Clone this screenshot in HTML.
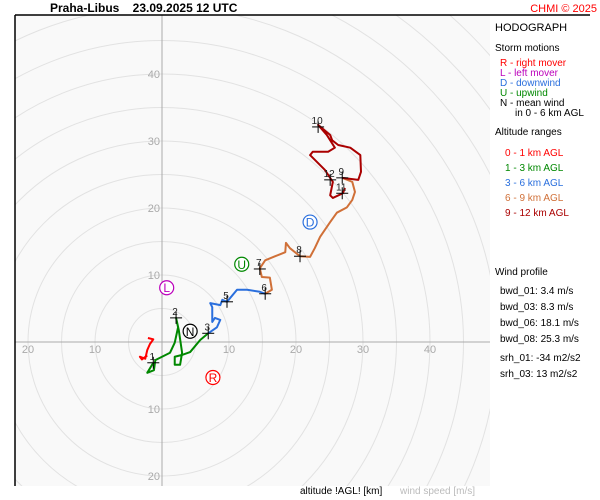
<!DOCTYPE html>
<html><head><meta charset="utf-8"><style>
html,body{margin:0;padding:0;background:#fff;width:600px;height:500px;overflow:hidden;}
svg{display:block;font-family:"Liberation Sans",sans-serif;}
</style></head><body>
<svg id="c" width="600" height="500" viewBox="0 0 600 500">
<defs><clipPath id="pc"><rect x="15" y="15" width="475" height="471"/></clipPath></defs>
<rect x="15" y="15" width="475" height="471" fill="#f9f9f9"/>
<g id="rings" clip-path="url(#pc)"></g>
<g id="axes"></g>
<g id="series" clip-path="url(#pc)"></g>
<line x1="15" y1="15" x2="15" y2="486" stroke="#000" stroke-width="1.5"/>
<line x1="15" y1="15" x2="590" y2="15" stroke="#000" stroke-width="1.5"/>
<text x="50" y="12" font-size="12" font-weight="bold">Praha-Libus&#160;&#160;&#160;&#160;23.09.2025 12 UTC</text>
<text x="597" y="12" font-size="11" fill="#f00" text-anchor="end">CHMI © 2025</text>
<g font-size="10">
<text x="495" y="31" font-size="11">HODOGRAPH</text>
<text x="495" y="51">Storm motions</text>
<text x="500" y="66" fill="#f00">R - right mover</text>
<text x="500" y="76" fill="#b0b">L - left mover</text>
<text x="500" y="86" fill="#2a6fdd">D - downwind</text>
<text x="500" y="96" fill="#080">U - upwind</text>
<text x="500" y="106">N - mean wind</text>
<text x="515" y="116">in 0 - 6 km AGL</text>
<text x="495" y="135">Altitude ranges</text>
<text x="505" y="156" fill="#f00">0 - 1 km AGL</text>
<text x="505" y="171" fill="#080">1 - 3 km AGL</text>
<text x="505" y="186" fill="#2a6fdd">3 - 6 km AGL</text>
<text x="505" y="201" fill="#d07038">6 - 9 km AGL</text>
<text x="505" y="216" fill="#a00">9 - 12 km AGL</text>
<text x="495" y="275">Wind profile</text>
<text x="500" y="294">bwd_01: 3.4 m/s</text>
<text x="500" y="310">bwd_03: 8.3 m/s</text>
<text x="500" y="326">bwd_06: 18.1 m/s</text>
<text x="500" y="342">bwd_08: 25.3 m/s</text>
<text x="500" y="361">srh_01: -34 m2/s2</text>
<text x="500" y="377">srh_03: 13 m2/s2</text>
</g>
<text x="300" y="494" font-size="10">altitude !AGL! [km]</text>
<text x="400" y="494" font-size="10" fill="#bbb">wind speed [m/s]</text>
</svg>
<script>
const ringRadii=[5,10,15,20,25,30,35,40,45,50,55,60,65,70];
const xTicks=[-20,-10,10,20,30,40];
const yTicks=[40,30,20,10,-10,-20];
const seg01=[[-2.1,0.6],[-1.3,0.4],[-1.8,-0.3],[-2.2,-1.2],[-2.5,-2.5],[-3.3,-2.2],[-3.0,-2.6],[-2.2,-2.0]];
const seg13=[[-1.3,-3.1],[-2.2,-4.6],[-1.2,-4.2],[-1.0,-2.7],[1.2,-1.6],[1.9,-0.1],[2.4,2.2],[2.1,3.6],[2.5,1.8],[3.0,-1.6],[2.7,-3.4],[1.9,-3.4],[1.9,-2.2],[3.1,-1.9],[4.2,-1.5],[5.7,0.3],[6.9,1.3]];
const seg36=[[6.9,1.3],[8.2,2.2],[8.7,3.3],[7.9,3.6],[7.5,3.0],[7.5,5.2],[7.2,5.8],[8.7,5.5],[9.0,6.3],[9.7,6.0],[11.2,7.8],[12.7,7.8],[14.6,7.5],[15.4,7.2]];
const seg69=[[15.4,7.2],[16.4,7.8],[16.1,9.6],[14.9,9.7],[14.6,11.0],[15.4,12.2],[16.9,12.8],[18.4,13.4],[18.5,14.8],[19.1,14.0],[20.6,12.8],[22.1,12.7],[22.8,14.0],[23.6,15.7],[25.1,17.9],[26.1,19.3],[27.6,20.1],[28.4,21.2],[28.8,22.4],[28.4,23.9],[26.9,24.5]];
const seg912=[[26.9,24.5],[29.3,24.2],[29.7,25.4],[29.6,27.9],[28.1,29.0],[26.3,29.4],[25.4,30.1],[25.1,30.9],[23.3,32.4],[24.6,30.9],[25.8,29.0],[24.8,28.4],[22.5,28.4],[22.1,27.9],[24.3,25.7],[25.5,23.9],[25.1,21.9],[25.5,21.5],[27.0,22.2],[27.3,23.0]];
const markerLabels=["1","2","3","5","6","7","8","9","10","11","12"];
const markerU=[-1.3,2.1,6.9,9.7,15.4,14.6,20.6,26.9,23.3,26.9,25.1];
const markerV=[-3.1,3.6,1.3,6.0,7.2,10.9,12.8,24.5,32.1,22.2,24.2];
const stormLabels=["L","N","U","R","D"];
const stormU=[0.7,4.2,11.9,7.6,22.1];
const stormV=[8.1,1.6,11.6,-5.3,17.9];

const NS="http://www.w3.org/2000/svg";
const X0=162,Y0=342,K=6.7;
const sx=u=>X0+u*K, sy=v=>Y0-v*K, sr=r=>r*K;
function mk(t,a,p){const e=document.createElementNS(NS,t);for(const k in a)e.setAttribute(k,a[k]);p.appendChild(e);return e;}
const rings=document.getElementById('rings'),axes=document.getElementById('axes'),ser=document.getElementById('series');
ringRadii.forEach(r=>{const c=mk('circle',{cx:X0,cy:Y0,r:sr(r),fill:'none',stroke:'#e2e2e2','stroke-width':1},rings);

});
let a=mk('line',{x1:15,y1:Y0,x2:490,y2:Y0,stroke:'#aaa','stroke-width':1},axes);


a=mk('line',{x1:X0,y1:15,x2:X0,y2:486,stroke:'#aaa','stroke-width':1},axes);


xTicks.forEach(t=>{const e=mk('text',{x:sx(t),y:Y0+11,'font-size':11,fill:'#aaa','text-anchor':'middle'},axes);e.textContent=Math.abs(t);

});
yTicks.forEach(t=>{const e=mk('text',{x:X0-2,y:sy(t)+4,'font-size':11,fill:'#aaa','text-anchor':'end'},axes);e.textContent=Math.abs(t);

});
const segs=[[seg01,'#f00','layer-0-1km'],[seg13,'#080','layer-1-3km'],[seg36,'#2a6fdd','layer-3-6km'],[seg69,'#d07038','layer-6-9km'],[seg912,'#a00','layer-9-12km']];
segs.forEach(s=>{const p=mk('polyline',{points:s[0].map(q=>sx(q[0])+','+sy(q[1])).join(' '),fill:'none',stroke:s[1],'stroke-width':2,'stroke-linejoin':'round'},ser);

});
markerLabels.forEach((l,i)=>{const x=sx(markerU[i]),y=sy(markerV[i]);
const g=mk('g',{},ser);


mk('line',{x1:x-6,y1:y,x2:x+6,y2:y,stroke:'#000','stroke-width':1},g);
mk('line',{x1:x,y1:y-6,x2:x,y2:y+6,stroke:'#000','stroke-width':1},g);
const t=mk('text',{x:x-1,y:y-3,'font-size':10,'text-anchor':'middle',fill:'#222'},g);t.textContent=l;});
const scol={L:'#b0b',N:'#000',U:'#080',R:'#f00',D:'#2a6fdd'};
stormLabels.forEach((l,i)=>{const x=sx(stormU[i]),y=sy(stormV[i]);
const g=mk('g',{},ser);


mk('circle',{cx:x,cy:y,r:7,fill:'#fff',stroke:scol[l],'stroke-width':1.2},g);
const t=mk('text',{x:x,y:y+4.5,'font-size':12,'text-anchor':'middle',fill:scol[l]},g);t.textContent=l;});
</script>
</body></html>
